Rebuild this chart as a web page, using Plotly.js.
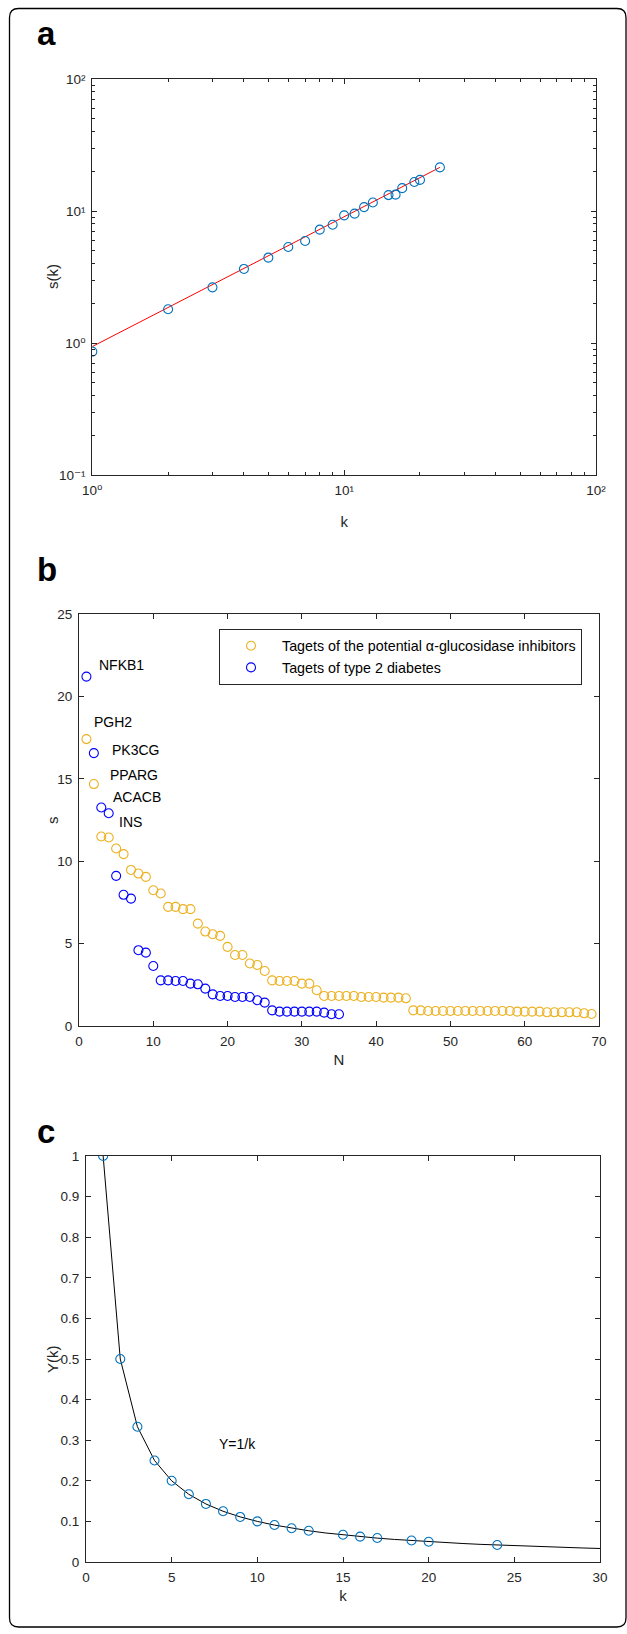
<!DOCTYPE html>
<html>
<head>
<meta charset="utf-8">
<script src="https://cdn.plot.ly/plotly-3.0.1.min.js"></script>
<style>html,body{margin:0;padding:0;background:#fff;}#chart{width:627px;height:1634px;}</style>
</head>
<body>
<div id="chart"></div>
<script>
// ---------- Panel a data ----------
const kA = [1,2,3,4,5,6,7,8,9,10,11,12,13,15,16,17,19,20,24];
const sA = [0.86,1.80,2.64,3.64,4.43,5.34,5.93,7.22,7.87,9.27,9.55,10.7,11.6,13.2,13.3,14.9,16.6,17.2,21.4];
const fitX = [1, 24];
const fitY = [0.94, 21.4];
const aXTickVals = [1, 10, 100];
const aXTickText = ['10\u2070','10\u00B9','10\u00B2'];
const aYTickVals = [0.1, 1, 10, 100];
const aYTickText = ['10\u207B\u00B9','10\u2070','10\u00B9','10\u00B2'];

// ---------- Panel b data ----------
const seriesNames = ['Tagets of the potential α-glucosidase inhibitors', 'Tagets of type 2 diabetes'];
const sInhib = [17.41,14.68,11.50,11.44,10.77,10.43,9.47,9.25,9.05,8.24,
                8.04,7.23,7.23,7.09,7.09,6.21,5.73,5.57,5.47,4.80,
                4.31,4.31,3.79,3.70,3.34,2.77,2.73,2.73,2.73,2.57,
                2.57,2.17,1.82,1.82,1.82,1.82,1.82,1.76,1.76,1.76,
                1.72,1.72,1.72,1.68,0.95,0.95,0.91,0.91,0.91,0.91,
                0.91,0.91,0.91,0.91,0.91,0.91,0.91,0.91,0.87,0.87,
                0.87,0.87,0.83,0.83,0.83,0.83,0.83,0.77,0.73];
const sT2D = [21.2,16.56,13.26,12.91,9.11,7.96,7.73,4.60,4.45,3.64,
              2.77,2.77,2.73,2.73,2.57,2.53,2.27,1.92,1.82,1.82,
              1.76,1.76,1.76,1.56,1.42,0.95,0.87,0.87,0.87,0.87,
              0.87,0.87,0.81,0.71,0.71];
const nInhib = sInhib.map((_, i) => i + 1);
const nT2D = sT2D.map((_, i) => i + 1);
const geneLabels = ['NFKB1','PGH2','PK3CG','PPARG','ACACB','INS'];

// ---------- Panel c data ----------
const kC = [1,2,3,4,5,6,7,8,9,10,11,12,13,15,16,17,19,20,24];
const yC = [1,0.5,0.333,0.25,0.2,0.167,0.143,0.125,0.111,0.1,0.091,0.083,0.077,0.067,0.0625,0.059,0.053,0.05,0.042];
const curveK = [1,2,3,4,5,6,7,8,9,10,11,12,13,14,15,16,17,18,19,20,21,22,23,24,25,26,27,28,29,30];
const curveY = [1,0.5,0.3333,0.25,0.2,0.1667,0.1429,0.125,0.1111,0.1,0.0909,0.0833,0.0769,0.0714,0.0667,0.0625,0.0588,0.0556,0.0526,0.05,0.0476,0.0455,0.0435,0.0417,0.04,0.0385,0.037,0.0357,0.0345,0.0333];

// ---------- geometry helpers (pixels -> paper) ----------
const W = 627, H = 1634;
const px = x => x / W;
const py = y => 1 - y / H;
const FONT = 'Liberation Sans, Arial, Helvetica, DejaVu Sans, sans-serif';
const AX = '#262626';
const TICKFONT = {family: FONT, size: 13.5, color: AX};
const TITLEFONT = {family: FONT, size: 15, color: AX};

function baseAxis(extra) {
  return Object.assign({
    showline: true, linecolor: AX, linewidth: 1, mirror: 'ticks',
    ticks: 'inside', ticklen: 5, tickcolor: AX, tickwidth: 1,
    showgrid: false, zeroline: false, tickfont: TICKFONT, fixedrange: true,
    ticklabelstandoff: 3
  }, extra);
}

const minorLog = [];
for (let e = -1; e < 2; e++) for (let m = 2; m <= 9; m++) minorLog.push(m * Math.pow(10, e));

const blue = '#0072BD';
const traces = [
  {x: fitX, y: fitY, xaxis: 'x', yaxis: 'y', mode: 'lines', line: {color: '#FF0000', width: 1}, showlegend: false, hoverinfo: 'skip'},
  {x: kA, y: sA, xaxis: 'x', yaxis: 'y', mode: 'markers', marker: {symbol: 'circle-open', size: 9, color: blue, line: {width: 1.1}}, showlegend: false},
  {x: nInhib, y: sInhib, xaxis: 'x2', yaxis: 'y2', mode: 'markers', name: seriesNames[0], marker: {symbol: 'circle-open', size: 9, color: '#EDB120', line: {width: 1.1}}},
  {x: nT2D, y: sT2D, xaxis: 'x2', yaxis: 'y2', mode: 'markers', name: seriesNames[1], marker: {symbol: 'circle-open', size: 9, color: '#0000FF', line: {width: 1.1}}},
  {x: curveK, y: curveY, xaxis: 'x3', yaxis: 'y3', mode: 'lines', line: {color: '#000000', width: 1}, showlegend: false, hoverinfo: 'skip'},
  {x: kC, y: yC, xaxis: 'x3', yaxis: 'y3', mode: 'markers', marker: {symbol: 'circle-open', size: 9, color: blue, line: {width: 1.1}}, showlegend: false}
];

// panel boxes in pixels
const A = {l: 92.3, r: 596, t: 79, b: 475};
const B = {l: 79, r: 599, t: 614, b: 1026};
const C = {l: 86, r: 600, t: 1156, b: 1562};

// frame path (rounded rectangle)
function roundRect(x0, y0, x1, y1, r) {
  const P = (x, y) => px(x).toFixed(5) + ',' + py(y).toFixed(5);
  return 'M' + P(x0 + r, y0) + ' L' + P(x1 - r, y0) + ' Q' + P(x1, y0) + ' ' + P(x1, y0 + r) +
    ' L' + P(x1, y1 - r) + ' Q' + P(x1, y1) + ' ' + P(x1 - r, y1) +
    ' L' + P(x0 + r, y1) + ' Q' + P(x0, y1) + ' ' + P(x0, y1 - r) +
    ' L' + P(x0, y0 + r) + ' Q' + P(x0, y0) + ' ' + P(x0 + r, y0) + ' Z';
}

const labelFont = {family: FONT, size: 14, color: '#000'};
const panelFont = {family: FONT, size: 33, color: '#000'};

function paperText(text, x, y, font, extra) {
  return Object.assign({text: text, xref: 'paper', yref: 'paper', x: px(x), y: py(y), showarrow: false, font: font, xanchor: 'center', yanchor: 'middle'}, extra || {});
}
function dataText(text, x, y) {
  return {text: text, xref: 'x2', yref: 'y2', x: x, y: y, showarrow: false, font: labelFont, xanchor: 'left', yanchor: 'middle'};
}

const annotations = [
  paperText('<b>a</b>', 35, 33, panelFont, {xanchor: 'left'}),
  paperText('<b>b</b>', 35, 569, panelFont, {xanchor: 'left'}),
  paperText('<b>c</b>', 35, 1131, panelFont, {xanchor: 'left'}),
  paperText('s(k)', 52, (A.t + A.b) / 2, TITLEFONT, {textangle: -90}),
  paperText('s', 52, (B.t + B.b) / 2, TITLEFONT, {textangle: -90}),
  paperText('Y(k)', 52, (C.t + C.b) / 2, TITLEFONT, {textangle: -90}),
  dataText(geneLabels[0], 2.46, 21.9),
  dataText(geneLabels[1], 1.77, 18.45),
  dataText(geneLabels[2], 4.13, 16.74),
  dataText(geneLabels[3], 3.9, 15.2),
  dataText(geneLabels[4], 4.37, 13.9),
  dataText(geneLabels[5], 5.18, 12.35),
  {text: 'Y=1/k', xref: 'x3', yref: 'y3', x: 7.65, y: 0.291, showarrow: false, font: labelFont, xanchor: 'left', yanchor: 'middle'}
];

const layout = {
  width: W, height: H,
  margin: {l: 0, r: 0, t: 0, b: 0, pad: 0},
  paper_bgcolor: '#ffffff', plot_bgcolor: '#ffffff',
  font: {family: FONT, color: AX},
  showlegend: true,
  legend: {
    x: px(219), y: py(629), xanchor: 'left', yanchor: 'top',
    bordercolor: AX, borderwidth: 1, bgcolor: '#ffffff',
    font: {family: FONT, size: 14.3, color: '#000'},
    tracegroupgap: 0, itemwidth: 52
  },
  xaxis: baseAxis({type: 'log', domain: [px(A.l), px(A.r)], range: [0, 2], anchor: 'y',
    tickmode: 'array', tickvals: aXTickVals, ticktext: aXTickText,
    title: {text: 'k', font: TITLEFONT, standoff: 19},
    minor: {tickmode: 'array', tickvals: minorLog, ticks: 'inside', ticklen: 3, tickcolor: AX, tickwidth: 1}}),
  yaxis: baseAxis({type: 'log', domain: [py(A.b), py(A.t)], range: [-1, 2], anchor: 'x',
    tickmode: 'array', tickvals: aYTickVals, ticktext: aYTickText,
    minor: {tickmode: 'array', tickvals: minorLog, ticks: 'inside', ticklen: 3, tickcolor: AX, tickwidth: 1}}),
  xaxis2: baseAxis({domain: [px(B.l), px(B.r)], range: [0, 70], anchor: 'y2', tickmode: 'linear', tick0: 0, dtick: 10,
    title: {text: 'N', font: TITLEFONT, standoff: 6}}),
  yaxis2: baseAxis({domain: [py(B.b), py(B.t)], range: [0, 25], anchor: 'x2', tickmode: 'linear', tick0: 0, dtick: 5}),
  xaxis3: baseAxis({domain: [px(C.l), px(C.r)], range: [0, 30], anchor: 'y3', tickmode: 'linear', tick0: 0, dtick: 5,
    title: {text: 'k', font: TITLEFONT, standoff: 6}}),
  yaxis3: baseAxis({domain: [py(C.b), py(C.t)], range: [0, 1], anchor: 'x3', tickmode: 'linear', tick0: 0, dtick: 0.1}),
  shapes: [
    {type: 'path', xref: 'paper', yref: 'paper', path: roundRect(9.5, 8.5, 626, 1627, 9), line: {color: '#000', width: 1.3}, fillcolor: 'rgba(0,0,0,0)', layer: 'below'}
  ],
  annotations: annotations
};

Plotly.newPlot('chart', traces, layout, {displayModeBar: false, staticPlot: true});
</script>
</body>
</html>
